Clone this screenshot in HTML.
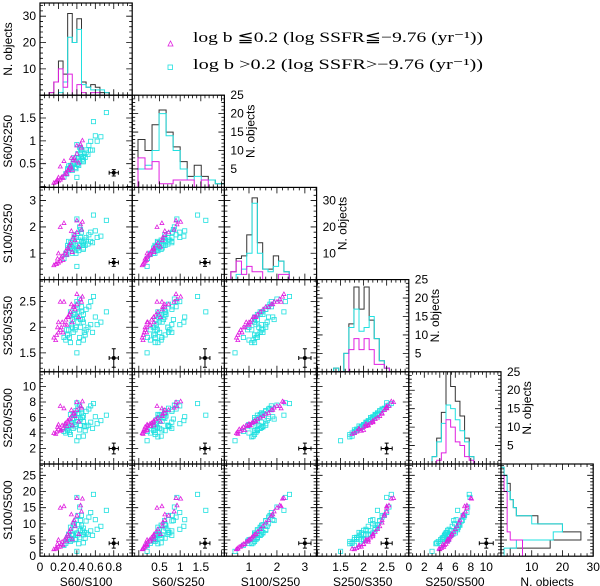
<!DOCTYPE html>
<html><head><meta charset="utf-8"><style>
html,body{margin:0;padding:0;background:#fff;}
svg{display:block;font-family:"Liberation Sans",sans-serif;}
</style></head><body>
<svg id="chart" width="600" height="586" viewBox="0 0 600 586" xmlns="http://www.w3.org/2000/svg">
<rect width="600" height="586" fill="#fff"/>
<g>
<path d="M168,46 L173,46 L170.5,41 Z" fill="none" stroke="#e020e0" stroke-width="0.8"/>
<text x="193" y="42" font-family="Liberation Serif, serif" font-size="15" textLength="290" lengthAdjust="spacingAndGlyphs">log b ≦0.2 (log SSFR≦−9.76 (yr⁻¹))</text>
<rect x="168" y="65" width="4.5" height="4.5" fill="none" stroke="#20e0e0" stroke-width="0.8"/>
<text x="193" y="69" font-family="Liberation Serif, serif" font-size="15" textLength="290" lengthAdjust="spacingAndGlyphs">log b &gt;0.2 (log SSFR&gt;−9.76 (yr⁻¹))</text>
</g>
</svg>
<script>
// ---- data: per-object ratios [S60/S100, S100/S250, S250/S350, S250/S500]
const cyanR1=[0.30,0.35,0.40,0.42,0.45,0.38,0.33,0.28,0.36,0.41,0.44,0.47,0.50,0.55,0.58,0.62,0.66,0.72,0.48,0.43,0.39,0.37,0.34,0.31,0.40,0.26,0.46,0.52,0.49,0.45,0.41,0.43,0.39,0.36,0.32,0.29,0.55,0.60,0.47,0.42,0.38,0.44,0.35,0.53,0.40,0.57,0.47,0.33,0.30,0.50];
const cyanR3=[1.3,1.0,1.2,1.5,1.8,1.1,1.2,1.0,1.4,1.2,1.9,1.4,1.6,1.8,2.45,1.6,1.65,2.25,1.5,1.3,1.0,1.7,1.25,1.45,0.5,0.8,1.3,1.35,1.3,1.45,1.75,2.0,1.6,1.5,1.25,0.95,1.45,1.85,1.15,1.1,1.3,1.6,1.2,1.7,2.3,1.4,1.2,1.4,1.2,1.5];
const cyanR4=[1.85,2.0,2.2,2.3,2.4,1.95,1.7,1.75,1.9,2.1,2.15,2.25,2.35,2.5,2.6,2.05,2.1,2.3,1.9,1.8,2.0,2.2,2.05,1.95,1.5,1.8,2.15,2.0,1.85,2.3,2.45,2.55,2.35,2.25,1.8,1.95,2.05,2.2,1.75,1.7,2.25,2.0,2.15,2.4,2.5,1.9,2.1,2.3,1.85,1.95];
const cyanR5=[4.5,5.0,6.0,6.5,7.0,4.8,3.8,4.0,4.6,5.5,5.8,6.2,6.8,7.5,7.8,5.2,5.6,6.3,4.9,4.4,5.1,5.9,5.3,4.7,3.0,4.2,6.0,5.0,4.3,6.6,7.2,7.6,6.9,6.4,4.1,4.9,5.4,6.1,3.6,3.5,6.3,5.0,5.7,7.1,7.9,4.6,5.5,6.4,4.3,4.8];
const magR1=[0.15,0.18,0.20,0.22,0.19,0.24,0.27,0.30,0.33,0.36,0.40,0.44,0.46,0.40,0.26,0.22,0.25,0.28,0.32,0.35,0.38,0.42,0.23,0.17,0.29,0.31,0.45,0.37,0.20,0.34];
const magR3=[0.55,0.6,0.65,0.7,0.8,0.9,1.0,1.2,1.4,1.6,1.8,2.1,2.2,2.25,2.15,2.0,0.75,1.1,1.3,1.05,1.5,1.25,0.85,0.6,0.95,1.15,1.9,1.7,1.0,1.85];
const magR4=[1.8,1.85,1.9,1.95,2.0,2.1,2.05,2.2,2.3,2.4,2.45,2.55,2.6,2.65,2.5,2.5,1.9,2.15,2.25,2.1,2.35,2.2,2.0,1.75,2.05,2.2,2.5,2.4,2.1,2.45];
const magR5=[4.0,4.2,4.5,4.3,4.8,5.0,5.2,5.6,6.0,6.5,7.0,7.5,8.1,8.0,7.2,7.5,4.6,5.3,5.8,5.0,6.2,5.5,4.4,3.9,4.9,5.4,7.3,6.6,5.1,7.0];
// ---- histogram counts (black = all, cyan, magenta)
const h1Start=0.10, h1Width=0.05;
const h1All=[1,5,13,8,31,20,29,5,3,4,3,1,1];
const h1Cyan=[0,0,1,5,22,20,25,4,3,2,2,2,1];
const h1Mag=[1,5,10,3,8,0,4,1,0,1,1,0,0];
const h2Start=-0.02, h2Width=0.17;
const h2All=[13,10,17,21,15,11,7,3,6,3,2,1,1];
const h2Cyan=[5,6,10,20,14,10,5,2,3,2,2,1,1];
const h2Mag=[8,5,7,1,1,2,2,2,0,2,0,0,0];
const h3Start=0.35, h3Width=0.19;
const h3All=[3,8,9,17,31,14,4,4,9,7,3];
const h3Cyan=[0,2,4,10,29,10,4,3,5,7,3];
const h3Mag=[3,7,2,5,3,3,0,0,0,2,2];
const h4Start=1.35, h4Width=0.11;
const h4All=[1,0,5,13,23,17,23,14,9,3,1];
const h4Cyan=[1,0,5,12,17,11,12,15,9,3,1];
const h4Mag=[0,0,0,6,9,6,9,6,2,2,1];
const h5Start=3.0, h5Width=0.6;
const h5All=[2,7,14,28,21,17,13,7,2];
const h5Cyan=[2,6,11,16,15,12,9,6,2];
const h5Mag=[0,1,3,12,10,6,5,2,1];
const h6Start=0, h6Width=2.5;
const h6All=[3,16,26,20,12,5,4,3,3,2,1];
const h6Cyan=[1,5,17,20,10,5,4,3,2,2,1];
const h6Mag=[7,7,3,2,2,2,2,2,1,1,0];
// ---- axis labels / ticks
const colNames=["S60/S100","S60/S250","S100/S250","S250/S350","S250/S500","N. objects"];
const rowNames=["N. objects","S60/S250","S100/S250","S250/S350","S250/S500","S100/S500"];
const colTickLabels=[["0","0.2","0.4","0.6","0.8"],["0.5","1","1.5"],["1","2","3"],["1.5","2","2.5"],["0","2","4","6","8","10"],["10","20","30"]];
const rowTickLabels=[["10","20","30"],["0.5","1","1.5"],["1","2","3"],["1.5","2","2.5"],["2","4","6","8","10"],["0","5","10","15","20","25"]];
const diagTickLabels=[[],["5","10","15","20","25"],["10","20","30"],["5","10","15","20","25"],["5","10","15","20","25"]];

const NS="http://www.w3.org/2000/svg";
const svg=document.getElementById('chart');
const X0=40,Y0=3,W=92.2;
const colDom=[[0,1.0],[-0.16,2.07],[0.12,3.42],[0.98,2.98],[0,11.9],[0,30]];
const rowDom=[[0,35],[-0.02,2.0],[0,3.5],[1.13,2.93],[0,11.9],[0,28.5]];
const diagDom=[[0,35],[0,25],[0,35],[0,25],[0,25]];
const colTick=[[0.2,0.05],[0.5,0.1],[1,0.2],[0.5,0.1],[2,0.5],[10,2]];
const rowTick=[[10,2],[0.5,0.1],[1,0.2],[0.5,0.1],[2,0.5],[5,1]];
const diagTick=[[10,2],[5,1],[10,2],[5,1],[5,1]];
const CYAN="#20e0e0",MAG="#e020e0";
function el(tag,attrs,parent){const e=document.createElementNS(NS,tag);for(const k in attrs)e.setAttribute(k,attrs[k]);(parent||svg).appendChild(e);return e;}
function sx(c,v){const d=colDom[c];return X0+c*W+(v-d[0])/(d[1]-d[0])*W;}
function sy(r,v,dom){const d=dom||rowDom[r];return Y0+(r+1)*W-(v-d[0])/(d[1]-d[0])*W;}

function vals(r1,r3,r4,r5,i){return [r1[i],r1[i]*r3[i],r3[i],r4[i],r5[i],r3[i]*r5[i]];}
const colVar=[0,1,2,3,4];const rowVar=[null,1,2,3,4,5];

function ticks(g,c,r,xspec,xdom,yspec,ydom){
  const L=X0+c*W,T=Y0+r*W;let d="";
  const add=(spec,dom,horiz)=>{
    const [maj,min]=spec;const n0=Math.ceil(dom[0]/min-1e-6),n1=Math.floor(dom[1]/min+1e-6);
    for(let n=n0;n<=n1;n++){const v=n*min;const isMaj=Math.abs(v/maj-Math.round(v/maj))<1e-6;const len=isMaj?6:3;
      const p=(v-dom[0])/(dom[1]-dom[0])*W;
      if(horiz){const x=L+p;d+=`M${x},${T+W}v${-len}M${x},${T}v${len}`;}
      else{const y=T+W-p;d+=`M${L},${y}h${len}M${L+W},${y}h${-len}`;}}
  };
  add(xspec,xdom,true);add(yspec,ydom,false);
  const t=el('path',{d:d,stroke:"#000","stroke-width":"0.8",fill:"none"},g);
  
  
}
function stepPath(g,counts,start,width,toX,toY,color,horiz,name){
  let d="";
  counts.forEach((n,i)=>{const a=start+i*width,b=a+width;
    if(horiz){const y1=toY(a),y2=toY(b),x=toX(n);d+=(i==0?`M${toX(0)},${y1}`:"")+`L${x},${y1}L${x},${y2}`;}
    else{const x1=toX(a),x2=toX(b),y=toY(n);d+=(i==0?`M${x1},${toY(0)}`:"")+`L${x1},${y}L${x2},${y}`;}
  });
  const e=start+counts.length*width;
  d+=horiz?`L${toX(0)},${toY(e)}`:`L${toX(e)},${toY(0)}`;
  const p=el('path',{d:d,stroke:color,"stroke-width":"1",fill:"none"},g);
  
  
}
const clipDefs=el('defs',{});
const errX=[0.8,1.6,3.0,2.5,10];const errY=[null,0.3,0.65,1.4,2,4];
const errDX=[0.05,0.12,0.22,0.12,0.9];const errDY=[null,0.07,0.15,0.18,0.7,1.5];

for(let r=0;r<6;r++)for(let c=0;c<=r;c++){
  const L=X0+c*W,T=Y0+r*W;
  const g=el('g',{});
  
  
  const cp=el('clipPath',{id:`cp${r}${c}`},clipDefs);el('rect',{x:L,y:T,width:W,height:W},cp);
  const inner=el('g',{"clip-path":`url(#cp${r}${c})`},g);
  if(r===c && r<5){
    const dom=diagDom[r];
    const H=[[h1Start,h1Width,h1All,h1Cyan,h1Mag],[h2Start,h2Width,h2All,h2Cyan,h2Mag],[h3Start,h3Width,h3All,h3Cyan,h3Mag],[h4Start,h4Width,h4All,h4Cyan,h4Mag],[h5Start,h5Width,h5All,h5Cyan,h5Mag]][r];
    const toX=v=>sx(c,v),toY=v=>sy(r,v,dom);
    stepPath(inner,H[2],H[0],H[1],toX,toY,"#333",false,'hist-all');
    stepPath(inner,H[3],H[0],H[1],toX,toY,CYAN,false,'hist-high-b');
    stepPath(inner,H[4],H[0],H[1],toX,toY,MAG,false,'hist-low-b');
    ticks(g,c,r,colTick[c],colDom[c],diagTick[r],dom);
    if(r>0){
      diagTickLabels[r].forEach(s=>{const t=el('text',{x:L+W+6,y:sy(r,+s,dom)+4,"font-size":"12"},svg);t.textContent=s;
        
        });
      const yl=el('text',{transform:`translate(${L+W+30},${T+W/2-10}) rotate(-90)`,"text-anchor":"middle","font-size":"12"},svg);yl.textContent="N. objects";
      
      
    }
  } else if(r===5 && c===5){
    const toX=v=>sx(5,v),toY=v=>sy(5,v);
    stepPath(inner,h6All,h6Start,h6Width,toX,toY,"#333",true,'hist-all');
    stepPath(inner,h6Cyan,h6Start,h6Width,toX,toY,CYAN,true,'hist-high-b');
    stepPath(inner,h6Mag,h6Start,h6Width,toX,toY,MAG,true,'hist-low-b');
    ticks(g,c,r,colTick[5],colDom[5],rowTick[5],rowDom[5]);
  } else {
    const drawSet=(R1,R3,R4,R5,col,tri)=>{
      for(let i=0;i<R1.length;i++){const v=vals(R1,R3,R4,R5,i);const x=sx(c,v[colVar[c]]),y=sy(r,v[rowVar[r]]);
        let m;
        if(tri){m=el('path',{d:`M${x-2},${y+1.6}L${x+2},${y+1.6}L${x},${y-2}Z`,fill:"none",stroke:col,"stroke-width":"0.8"},inner);}
        else{m=el('rect',{x:x-2.1,y:y-2.1,width:4.2,height:4.2,fill:"none",stroke:col,"stroke-width":"0.8"},inner);}
        
        
      }};
    drawSet(cyanR1,cyanR3,cyanR4,cyanR5,CYAN,false);
    drawSet(magR1,magR3,magR4,magR5,MAG,true);
    const ex=sx(c,errX[c]),ey=sy(r,errY[r]);
    const dx=errDX[c]/(colDom[c][1]-colDom[c][0])*W,dy=errDY[r]/(rowDom[r][1]-rowDom[r][0])*W;
    const eb=el('path',{d:`M${ex-dx},${ey}H${ex+dx}M${ex},${ey-dy}V${ey+dy}M${ex-dx},${ey-2}v4M${ex+dx},${ey-2}v4M${ex-2},${ey-dy}h4M${ex-2},${ey+dy}h4`,stroke:"#000","stroke-width":"1",fill:"none"},inner);
    
    
    const ed=el('circle',{cx:ex,cy:ey,r:2,fill:"#000"},inner);
    
    
    ticks(g,c,r,colTick[c],colDom[c],rowTick[r],rowDom[r]);
  }
  const fr=el('rect',{x:L,y:T,width:W,height:W,fill:"none",stroke:"#000","stroke-width":"1.2"},g);
  
  
}
for(let r=0;r<6;r++){
  const dom=rowDom[r];
  rowTickLabels[r].forEach(s=>{const t=el('text',{x:X0-4,y:sy(r,+s,dom)+4,"text-anchor":"end","font-size":"12"});t.textContent=s;
    
    });
  const t=el('text',{transform:`translate(12,${Y0+r*W+W/2}) rotate(-90)`,"text-anchor":"middle","font-size":"12"});t.textContent=rowNames[r];
  
  
}
for(let c=0;c<6;c++){
  colTickLabels[c].forEach(s=>{const t=el('text',{x:sx(c,+s),y:Y0+6*W+15,"text-anchor":"middle","font-size":"12"});t.textContent=s;
    
    });
  const t=el('text',{x:X0+c*W+W/2,y:Y0+6*W+30,"text-anchor":"middle","font-size":"12"});t.textContent=colNames[c];
  
  
}
</script>
</body></html>
